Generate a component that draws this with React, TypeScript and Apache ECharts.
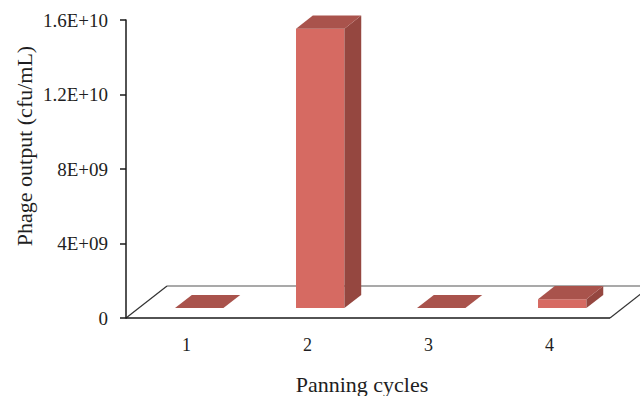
import React, { useEffect, useRef } from "react";
import * as echarts from "echarts";

// Phage titre recovered after each panning round
const cycles = ["1", "2", "3", "4"];
const phageOutput = [2.0e6, 1.5e10, 3.0e6, 4.8e8];

// Value-axis ticks and their Excel-style labels
const yTickValues = [0, 4e9, 8e9, 1.2e10, 1.6e10];
const yTickLabels = ["0", "4E+09", "8E+09", "1.2E+10", "1.6E+10"];

const FONT = "'Liberation Serif', 'Times New Roman', serif";
const TEXT = "#1e1e22";

// Oblique projection of the floor depth (pixels), and where bars sit in it
const DEPTH_X = 41;
const DEPTH_Y = -32;
const BAR_FRONT = 0.31;
const BAR_BACK = 0.72;
const BAR_WIDTH = 0.4;

const FACE_FRONT = "#d66a62";
const FACE_TOP = "#a9534c";
const FACE_SIDE = "#954740";

export default function App() {
  const ref = useRef<HTMLDivElement>(null);

  useEffect(() => {
    if (!ref.current) return;
    const chart = echarts.init(ref.current, null, { renderer: "svg" });

    const option: any = {
      animation: false,
      backgroundColor: "#ffffff",
      grid: { left: 126, right: 30, top: 20, bottom: 78 },
      xAxis: {
        type: "category",
        data: cycles,
        axisLine: { show: false },
        axisTick: { show: false },
        splitLine: { show: false },
        axisLabel: {
          margin: 18,
          fontFamily: FONT,
          fontSize: 18,
          color: TEXT,
        },
      },
      yAxis: {
        type: "value",
        min: yTickValues[0],
        max: yTickValues[yTickValues.length - 1],
        interval: yTickValues[1] - yTickValues[0],
        splitLine: { show: false },
        axisLine: { show: true, lineStyle: { color: "#1a1a1a", width: 1.5 } },
        axisTick: {
          show: true,
          length: 6,
          lineStyle: { color: "#1a1a1a", width: 1.5 },
        },
        axisLabel: {
          margin: 18,
          fontFamily: FONT,
          fontSize: 19,
          color: TEXT,
          formatter: (v: number) => {
            const k = yTickValues.indexOf(v);
            return k >= 0 ? yTickLabels[k] : "";
          },
        },
      },
      graphic: [
        {
          type: "text",
          x: 24,
          y: 146,
          rotation: Math.PI / 2,
          style: {
            text: "Phage output (cfu/mL)",
            fontFamily: FONT,
            fontSize: 22,
            fill: TEXT,
            align: "center",
            verticalAlign: "middle",
          },
        },
        {
          type: "text",
          x: 362,
          y: 384,
          style: {
            text: "Panning cycles",
            fontFamily: FONT,
            fontSize: 22,
            fill: TEXT,
            align: "center",
            verticalAlign: "middle",
          },
        },
      ],
      series: [
        {
          // floor plane drawn in perspective under the columns
          type: "custom",
          z: 1,
          silent: true,
          data: [[0, 0]],
          renderItem: (params: any) => {
            const cs = params.coordSys;
            const x0 = cs.x;
            const x1 = cs.x + cs.width;
            const y0 = cs.y + cs.height;
            const bx0 = x0 + DEPTH_X;
            const bx1 = x1 + DEPTH_X;
            const by = y0 + DEPTH_Y;
            return {
              type: "group",
              children: [
                {
                  type: "polygon",
                  shape: { points: [[x0, y0], [x1, y0], [bx1, by], [bx0, by]] },
                  style: { fill: "#ffffff", stroke: "none" },
                },
                {
                  type: "line",
                  shape: { x1: bx0, y1: by, x2: bx1, y2: by },
                  style: { stroke: "#555555", lineWidth: 1.2 },
                },
                {
                  type: "line",
                  shape: { x1: x0, y1: y0, x2: bx0, y2: by },
                  style: { stroke: "#333333", lineWidth: 1.2 },
                },
                {
                  type: "line",
                  shape: { x1: x1, y1: y0, x2: bx1, y2: by },
                  style: { stroke: "#333333", lineWidth: 1.2 },
                },
                {
                  type: "line",
                  shape: { x1: x0, y1: y0, x2: x1, y2: y0 },
                  style: { stroke: "#1a1a1a", lineWidth: 1.5 },
                },
              ],
            };
          },
        },
        {
          // 3D columns: front face, right side and top
          type: "custom",
          z: 2,
          data: cycles.map((_, i) => [i, phageOutput[i]]),
          encode: { x: 0, y: 1 },
          renderItem: (params: any, api: any) => {
            const i = api.value(0);
            const v = api.value(1);
            const base = api.coord([i, 0]);
            const top = api.coord([i, v]);
            const band = api.size([1, 0])[0];
            const w = band * BAR_WIDTH;
            const fx = DEPTH_X * BAR_FRONT;
            const fy = DEPTH_Y * BAR_FRONT;
            const dx = DEPTH_X * (BAR_BACK - BAR_FRONT);
            const dy = DEPTH_Y * (BAR_BACK - BAR_FRONT);
            const xl = base[0] - w / 2 + fx;
            const xr = xl + w;
            const yb = base[1] + fy;
            const yt = top[1] + fy;
            return {
              type: "group",
              children: [
                {
                  type: "polygon",
                  shape: { points: [[xl, yb], [xr, yb], [xr, yt], [xl, yt]] },
                  style: { fill: FACE_FRONT },
                },
                {
                  type: "polygon",
                  shape: {
                    points: [[xr, yb], [xr + dx, yb + dy], [xr + dx, yt + dy], [xr, yt]],
                  },
                  style: { fill: FACE_SIDE },
                },
                {
                  type: "polygon",
                  shape: {
                    points: [[xl, yt], [xr, yt], [xr + dx, yt + dy], [xl + dx, yt + dy]],
                  },
                  style: { fill: FACE_TOP },
                },
              ],
            };
          },
        },
      ],
    };

    chart.setOption(option);
    return () => chart.dispose();
  }, []);

  return (
    <div
      ref={ref}
      style={{ position: "fixed", left: 0, top: 0, width: 640, height: 396 }}
    />
  );
}
